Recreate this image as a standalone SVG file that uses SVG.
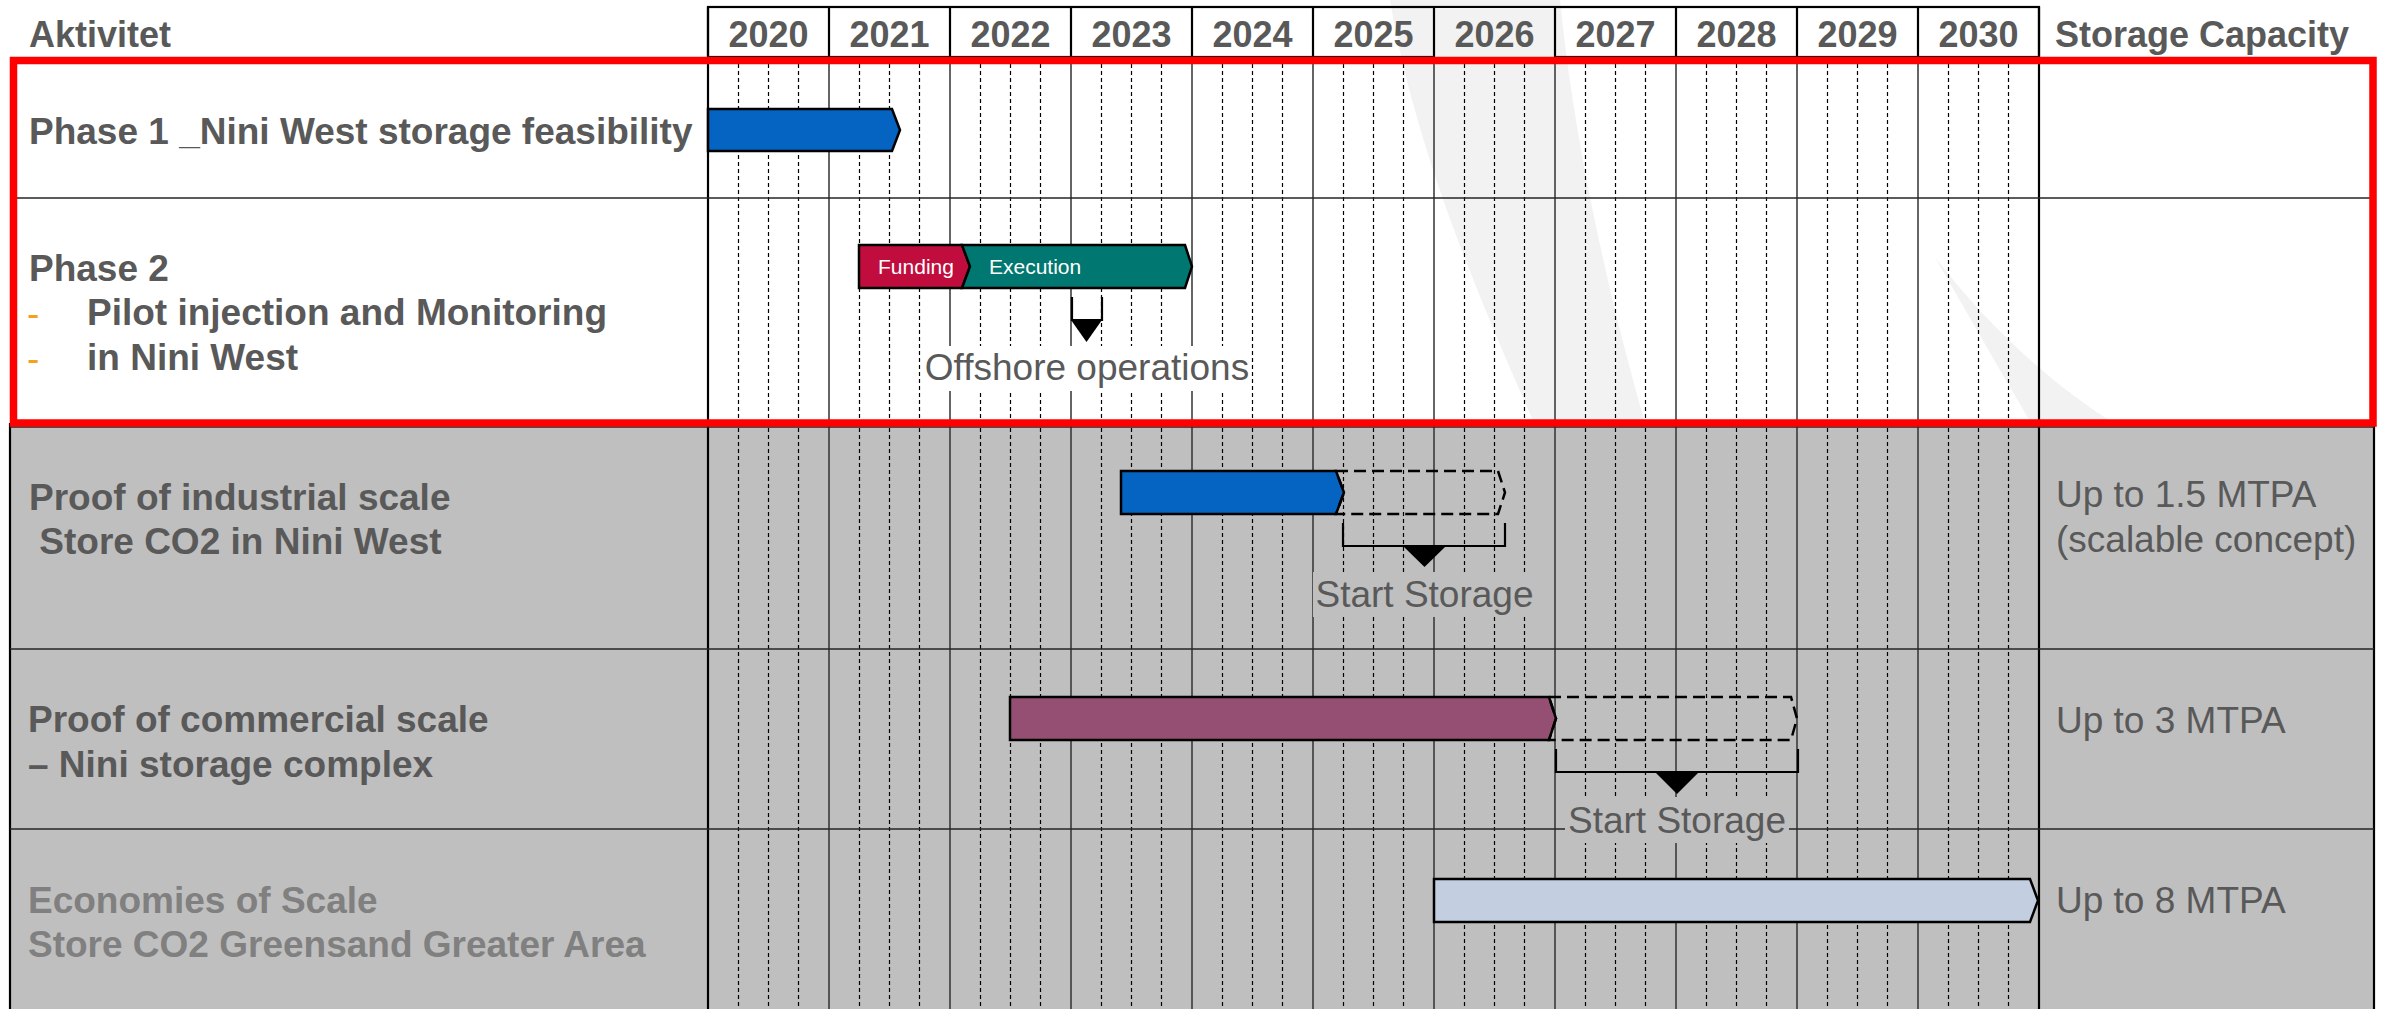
<svg xmlns="http://www.w3.org/2000/svg" width="2382" height="1009" viewBox="0 0 2382 1009">
  <defs>
    <style>
      .lbl { font-family: "Liberation Sans", Arial, sans-serif; font-weight: bold; font-size: 37px; fill: #595959; }
      .lbl-dim { font-family: "Liberation Sans", Arial, sans-serif; font-weight: bold; font-size: 37px; fill: #808080; }
      .hdr { font-family: "Liberation Sans", Arial, sans-serif; font-weight: bold; font-size: 36px; fill: #595959; }
      .cap { font-family: "Liberation Sans", Arial, sans-serif; font-size: 37px; fill: #595959; }
      .bar-txt { font-family: "Liberation Sans", Arial, sans-serif; font-size: 21px; fill: #FFFFFF; }
      .bullet { font-family: "Liberation Sans", Arial, sans-serif; font-size: 37px; fill: #F4A21E; }
      .bar { stroke: #000000; stroke-width: 2.5; stroke-linejoin: miter; }
      .bar-plan { fill: none; stroke: #000000; stroke-width: 2.5; stroke-dasharray: 12 6; }
      .quarter { fill: none; stroke: #000000; stroke-width: 1.2; stroke-dasharray: 4 3; }
      .year { fill: none; stroke: #333333; stroke-width: 1.5; }
      .rowline { fill: none; stroke: #262626; stroke-width: 1.6; }
      .border { fill: none; stroke: #000000; stroke-width: 2.2; }
      .bracket { fill: none; stroke: #000000; stroke-width: 2.2; }
      .flag { fill: #000000; }
    </style>
  </defs>

  <!-- page background -->
  <rect x="0" y="0" width="2382" height="1009" fill="#FFFFFF"/>

  <!-- faint background swoosh -->
  <g id="watermark" fill="#F2F2F2">
    <path d="M1390,0 L1560,0 C1575,150 1610,300 1645,423 L1534,423 C1480,300 1415,150 1390,0 Z"/>
    <path d="M1935,257 C1990,330 2060,390 2114,423 L2031,423 C2000,370 1965,310 1935,257 Z"/>
  </g>

  <!-- grey lower section -->
  <rect x="10" y="423" width="2364" height="586" fill="#BFBFBF"/>

  <!-- header -->
  <g id="header">
    <rect x="708" y="7" width="1331" height="50" fill="#FFFFFF" class="border"/>
    <rect x="1434" y="8" width="121" height="49" fill="#F2F2F2"/>
    <path class="border" d="M829,7V57 M950,7V57 M1071,7V57 M1192,7V57 M1313,7V57 M1434,7V57 M1555,7V57 M1676,7V57 M1797,7V57 M1918,7V57"/>
    <text class="hdr" x="29" y="47">Aktivitet</text>
    <g class="hdr" text-anchor="middle">
      <text x="768.5" y="47">2020</text>
      <text x="889.5" y="47">2021</text>
      <text x="1010.5" y="47">2022</text>
      <text x="1131.5" y="47">2023</text>
      <text x="1252.5" y="47">2024</text>
      <text x="1373.5" y="47">2025</text>
      <text x="1494.5" y="47">2026</text>
      <text x="1615.5" y="47">2027</text>
      <text x="1736.5" y="47">2028</text>
      <text x="1857.5" y="47">2029</text>
      <text x="1978.5" y="47">2030</text>
    </g>
    <text class="hdr" x="2055" y="47">Storage Capacity</text>
  </g>

  <!-- timeline grid -->
  <g id="grid">
    <path class="quarter" d="M738.5,64V1009 M768.5,64V1009 M798.5,64V1009
      M859.5,64V1009 M889.5,64V1009 M919.5,64V1009
      M980.5,64V1009 M1010.5,64V1009 M1040.5,64V1009
      M1101.5,64V1009 M1131.5,64V1009 M1161.5,64V1009
      M1222.5,64V1009 M1252.5,64V1009 M1282.5,64V1009
      M1343.5,64V1009 M1373.5,64V1009 M1403.5,64V1009
      M1464.5,64V1009 M1494.5,64V1009 M1524.5,64V1009
      M1585.5,64V1009 M1615.5,64V1009 M1645.5,64V1009
      M1706.5,64V1009 M1736.5,64V1009 M1766.5,64V1009
      M1827.5,64V1009 M1857.5,64V1009 M1887.5,64V1009
      M1948.5,64V1009 M1978.5,64V1009 M2008.5,64V1009"/>
    <path class="year" d="M829,57V1009 M950,57V1009 M1071,57V1009 M1192,57V1009 M1313,57V1009 M1434,57V1009 M1555,57V1009 M1676,57V1009 M1797,57V1009 M1918,57V1009"/>
    <path class="border" d="M708,7V1009 M2039,7V1009 M10,423V1009 M2374,423V1009"/>
    <path class="rowline" d="M10,198H2374 M10,427H2374 M10,649H2374 M10,829H2374"/>
  </g>

  <!-- highlighted current phases -->
  <rect id="focus-frame" x="13.5" y="60.5" width="2359.5" height="362.5" fill="none" stroke="#FF0000" stroke-width="7.5"/>

  <!-- Phase 1 -->
  <g id="phase1">
    <text class="lbl" x="29" y="144">Phase 1 _Nini West storage feasibility</text>
    <polygon class="bar" fill="#0563C1" points="708,109 892,109 900,130 892,151 708,151"/>
  </g>

  <!-- Phase 2 -->
  <g id="phase2">
    <text class="lbl" x="29" y="281">Phase 2</text>
    <text class="bullet" x="27" y="326">-</text>
    <text class="lbl" x="87" y="325">Pilot injection and Monitoring</text>
    <text class="bullet" x="27" y="371">-</text>
    <text class="lbl" x="87" y="370">in Nini West</text>
    <polygon class="bar" fill="#C00D3E" points="859,245 962,245 970,266.5 962,288 859,288"/>
    <polygon class="bar" fill="#007770" points="962,245 1185,245 1192,266.5 1185,288 962,288 970,266.5"/>
    <text class="bar-txt" x="916" y="274" text-anchor="middle">Funding</text>
    <text class="bar-txt" x="989" y="274">Execution</text>
  </g>

  <!-- Proof of industrial scale -->
  <g id="industrial">
    <text class="lbl" x="29" y="510">Proof of industrial scale</text>
    <text class="lbl" x="29" y="554" xml:space="preserve"> Store CO2 in Nini West</text>
    <polygon class="bar" fill="#0563C1" points="1121,471 1336,471 1344,492.5 1336,514 1121,514"/>
    <polygon class="bar-plan" points="1336,471 1498,471 1505,492.5 1498,514 1336,514 1344,492.5"/>
    <text class="cap" x="2056" y="507">Up to 1.5 MTPA</text>
    <text class="cap" x="2056" y="552">(scalable concept)</text>
  </g>

  <!-- Proof of commercial scale -->
  <g id="commercial">
    <text class="lbl" x="28" y="732">Proof of commercial scale</text>
    <text class="lbl" x="28" y="777">– Nini storage complex</text>
    <polygon class="bar" fill="#954F72" points="1010,697 1549,697 1556,718.5 1549,740 1010,740"/>
    <polygon class="bar-plan" points="1549,697 1791,697 1797,718.5 1791,740 1549,740 1556,718.5"/>
    <text class="cap" x="2056" y="733">Up to 3 MTPA</text>
  </g>

  <!-- Economies of scale -->
  <g id="economies">
    <text class="lbl-dim" x="28" y="913">Economies of Scale</text>
    <text class="lbl-dim" x="28" y="957">Store CO2 Greensand Greater Area</text>
    <polygon class="bar" fill="#C3CEE1" points="1434,879 2030,879 2038,900.5 2030,922 1434,922"/>
    <text class="cap" x="2056" y="913">Up to 8 MTPA</text>
  </g>

  <!-- milestone brackets and flags -->
  <g id="connectors">
    <path class="bracket" d="M1072,297V320H1102V297"/>
    <polygon class="flag" points="1071,320 1102,320 1086.5,342"/>
    <path class="bracket" d="M1343,523V546H1505V523"/>
    <polygon class="flag" points="1403,546 1446,546 1424.5,567"/>
    <path class="bracket" d="M1556,749V772H1798V749"/>
    <polygon class="flag" points="1655,772 1699,772 1677,794"/>
  </g>

  <!-- milestone captions -->
  <g id="milestone-offshore">
    <rect x="921" y="346" width="330" height="45" fill="#FFFFFF"/>
    <text class="cap" x="1087" y="380" text-anchor="middle">Offshore operations</text>
  </g>
  <g id="milestone-storage-1">
    <rect x="1313" y="572" width="223" height="45" fill="#BFBFBF"/>
    <text class="cap" x="1424.5" y="607" text-anchor="middle">Start Storage</text>
  </g>
  <g id="milestone-storage-2">
    <rect x="1565" y="797" width="224" height="46" fill="#BFBFBF"/>
    <text class="cap" x="1677" y="833" text-anchor="middle">Start Storage</text>
  </g>
</svg>
